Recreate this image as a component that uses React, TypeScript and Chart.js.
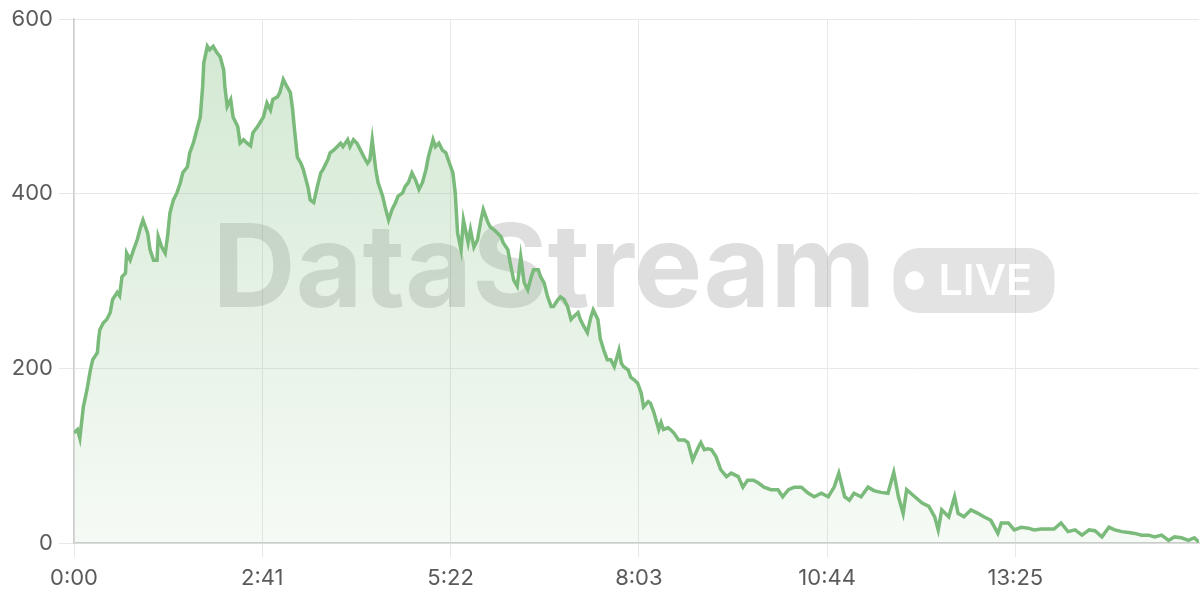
import { useEffect, useRef } from "react";
import Chart from "chart.js/auto";

// seconds since start
const times = [
  0, 3, 5, 8, 11, 14, 16, 20, 21, 22, 25, 28, 31, 33, 37, 39, 41, 44, 45, 48,
  51, 54, 57, 59, 63, 65, 68, 71, 72, 75, 78, 80, 82, 85, 88, 91, 93, 97, 99, 102,
  105, 108, 110, 111, 114, 116, 119, 122, 125, 128, 129, 131, 134, 136, 140, 142, 145, 148, 151, 153,
  157, 162, 165, 168, 170, 174, 176, 179, 182, 185, 187, 188, 191, 194, 196, 200, 202, 205, 208, 211,
  213, 217, 219, 222, 225, 228, 230, 234, 236, 239, 242, 245, 248, 251, 253, 255, 258, 260, 264, 266,
  269, 272, 275, 277, 281, 283, 286, 289, 292, 295, 298, 301, 303, 307, 309, 312, 315, 318, 320, 324,
  326, 328, 331, 333, 337, 339, 342, 345, 348, 350, 354, 356, 359, 362, 365, 367, 371, 373, 376, 379,
  382, 385, 388, 391, 393, 397, 399, 402, 405, 408, 410, 414, 416, 419, 422, 425, 427, 431, 433, 436,
  439, 442, 444, 448, 450, 453, 456, 459, 462, 466, 468, 470, 474, 476, 479, 482, 485, 487, 491, 493,
  496, 500, 502, 504, 508, 510, 513, 517, 522, 525, 529, 534, 536, 539, 542, 545, 549, 553, 558, 562,
  568, 572, 576, 581, 585, 590, 596, 602, 606, 611, 616, 622, 628, 633, 639, 645, 650, 654, 659, 663,
  667, 673, 679, 684, 690, 696, 701, 705, 709, 712, 719, 725, 731, 736, 739, 742, 748, 753, 756, 761,
  767, 773, 778, 784, 790, 793, 799, 804, 810, 816, 821, 827, 833, 838, 844, 850, 856, 862, 868, 873,
  879, 885, 890, 896, 902, 907, 913, 919, 924, 930, 936, 941, 947, 953, 958, 962,
];

const values = [
  126, 130, 120, 156, 175, 198, 210, 218, 233, 244, 252, 256, 264, 279, 287, 283, 305, 309, 332, 324,
  336, 347, 362, 370, 355, 336, 324, 324, 351, 339, 332, 351, 378, 393, 401, 413, 424, 431, 447, 458,
  473, 488, 523, 550, 569, 565, 569, 562, 557, 542, 523, 500, 508, 488, 477, 458, 462, 458, 455, 470,
  477, 488, 504, 496, 508, 511, 516, 531, 523, 516, 496, 481, 442, 435, 428, 408, 393, 390, 408, 424,
  428, 439, 447, 450, 454, 458, 454, 462, 454, 462, 458, 450, 442, 435, 439, 462, 428, 413, 397, 385,
  370, 382, 390, 397, 401, 408, 413, 424, 416, 405, 413, 428, 442, 462, 454, 458, 450, 447, 439, 424,
  401, 355, 336, 370, 344, 359, 339, 347, 370, 382, 367, 362, 359, 355, 351, 344, 336, 321, 301, 294,
  328, 298, 290, 305, 313, 313, 305, 298, 282, 271, 271, 279, 282, 279, 271, 256, 259, 264, 256, 248,
  241, 259, 267, 256, 234, 221, 210, 210, 202, 221, 206, 202, 198, 190, 187, 183, 172, 156, 162, 160,
  149, 130, 138, 130, 132, 130, 126, 118, 118, 115, 95, 110, 115, 107, 108, 107, 99, 84, 76, 80,
  76, 64, 72, 72, 69, 64, 61, 61, 53, 61, 64, 64, 57, 53, 57, 53, 64, 80, 53, 49,
  57, 53, 64, 60, 58, 57, 81, 53, 34, 61, 53, 46, 42, 30, 15, 38, 30, 53, 34, 30,
  38, 34, 30, 26, 11, 23, 23, 15, 18, 17, 15, 16, 16, 16, 23, 13, 15, 9, 15, 14,
  7, 18, 15, 13, 12, 11, 9, 9, 7, 9, 3, 7, 6, 3, 6, 1,
];

const xTickValues = [0, 161, 322, 483, 644, 805];
const yTickValues = [0, 200, 400, 600];

const FONT = 'Inter, Helvetica, "Liberation Sans", Arial, sans-serif';
const LINE = "rgb(122, 186, 122)";
const WATERMARK = "DataStream";
const BADGE = "LIVE";

const fmtTime = (s: number) => {
  const m = Math.floor(s / 60);
  const r = Math.round(s % 60);
  return `${m}:${r < 10 ? "0" : ""}${r}`;
};

const watermarkPlugin = {
  id: "watermark",
  beforeDatasetsDraw(chart: any) {
    const { ctx, chartArea: a } = chart;
    ctx.save();
    ctx.font = `bold 100px ${FONT}`;
    const w100 = ctx.measureText(WATERMARK).width;
    const size = (100 * 663) / w100;
    ctx.font = `bold ${size}px ${FONT}`;
    const mainW = ctx.measureText(WATERMARK).width;
    const pillW = 161;
    const pillH = 65;
    const gap = 18;
    const cx = (a.left + a.right) / 2;
    const cy = (a.top + a.bottom) / 2;
    const left = cx - (mainW + gap + pillW) / 2 - 3;
    ctx.fillStyle = "rgba(90, 90, 90, 0.2)";
    ctx.textBaseline = "alphabetic";
    ctx.textAlign = "left";
    ctx.fillText(WATERMARK, left, cy + 26);

    const px = left + mainW + gap;
    const py = cy - 33;
    ctx.fillStyle = "rgba(90, 90, 90, 0.17)";
    ctx.beginPath();
    ctx.roundRect(px, py, pillW, pillH, 26);
    ctx.fill();
    ctx.fillStyle = "#ffffff";
    ctx.beginPath();
    ctx.arc(px + 21, py + pillH / 2, 9.5, 0, Math.PI * 2);
    ctx.fill();
    ctx.font = `600 43px ${FONT}`;
    ctx.textBaseline = "middle";
    ctx.fillText(BADGE, px + 45, py + pillH / 2 + 1);
    ctx.restore();
  },
};

export default function App() {
  const canvasRef = useRef<HTMLCanvasElement>(null);
  const chartRef = useRef<Chart | null>(null);

  useEffect(() => {
    document.body.style.margin = "0";
    if (!canvasRef.current) return;
    if (chartRef.current) chartRef.current.destroy();

    chartRef.current = new Chart(canvasRef.current, {
      type: "line",
      data: {
        datasets: [
          {
            data: times.map((t, i) => ({ x: t, y: values[i] })),
            borderColor: LINE,
            borderWidth: 3.5,
            pointRadius: 0,
            tension: 0,
            fill: "origin",
            backgroundColor: (c: any) => {
              const area = c.chart.chartArea;
              if (!area) return "rgba(122,186,122,0.15)";
              const g = c.chart.ctx.createLinearGradient(0, area.top, 0, area.bottom);
              g.addColorStop(0, "rgba(122, 186, 122, 0.34)");
              g.addColorStop(1, "rgba(122, 186, 122, 0.07)");
              return g;
            },
          },
        ],
      },
      options: {
        animation: false,
        responsive: false,
        maintainAspectRatio: false,
        layout: { padding: { top: 19, right: 1, left: 0, bottom: 0 } },
        plugins: {
          legend: { display: false },
          tooltip: { enabled: false },
        },
        scales: {
          x: {
            type: "linear",
            min: 0,
            max: 962,
            afterBuildTicks: (s: any) => {
              s.ticks = xTickValues.map((v) => ({ value: v }));
            },
            afterFit: (s: any) => {
              s.height = 57;
            },
            grid: { color: "#e8e8e8", tickLength: 14, lineWidth: 1 },
            border: { color: "#cfcfcf", width: 1.5 },
            ticks: {
              color: "#5a5a5a",
              font: { family: FONT, size: 22 },
              padding: 8,
              maxRotation: 0,
              callback: (v: any) => fmtTime(Number(v)),
            },
          },
          y: {
            min: 0,
            max: 600,
            afterBuildTicks: (s: any) => {
              s.ticks = yTickValues.map((v) => ({ value: v }));
            },
            afterFit: (s: any) => {
              s.width = 74;
            },
            grid: { color: "#e8e8e8", tickLength: 15, lineWidth: 1 },
            border: { color: "#cfcfcf", width: 1.5 },
            ticks: {
              color: "#5a5a5a",
              font: { family: FONT, size: 22 },
              padding: 6,
            },
          },
        },
      },
      plugins: [watermarkPlugin],
    });

    return () => {
      if (chartRef.current) {
        chartRef.current.destroy();
        chartRef.current = null;
      }
    };
  }, []);

  return (
    <div style={{ width: 1200, height: 600 }}>
      <canvas ref={canvasRef} width={1200} height={600} />
    </div>
  );
}
